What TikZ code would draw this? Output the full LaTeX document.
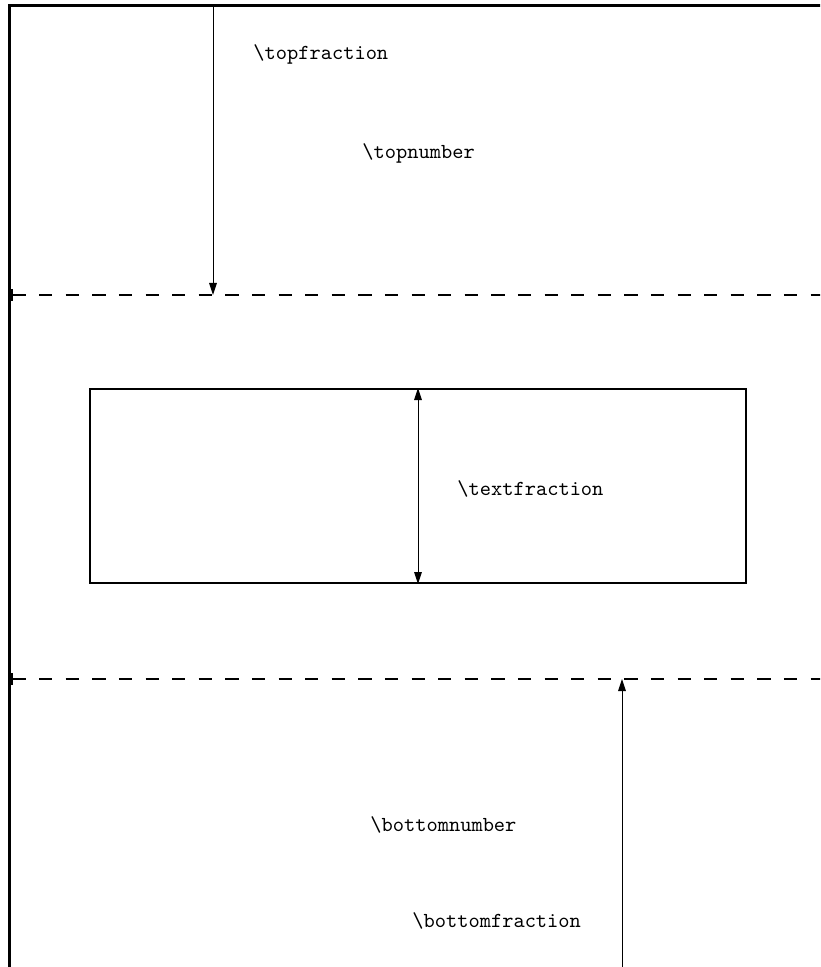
\documentclass[tikz,border=0pt]{standalone}
\usetikzlibrary{arrows.meta}
\begin{document}
\begin{tikzpicture}[x=0.5pt,y=-0.5pt,
  frameline/.style={line width=1.3pt},
  sepline/.style={line width=1pt, dash pattern=on 6.65pt off 6.65pt, {Bar[width=6pt,line width=1pt]}-},
  boxline/.style={line width=1pt},
  param/.style={font=\fontsize{10.7}{12}\selectfont\ttfamily, inner sep=0pt, anchor=west},
  dimarrow/.style={line width=0.5pt, -{Triangle[length=6pt,width=3.8pt]}},
  dimboth/.style={line width=0.5pt, {Triangle[length=6pt,width=3.8pt]}-{Triangle[length=6pt,width=3.8pt]}}]
\useasboundingbox (0,0) rectangle (820,967);
\clip (0,0) rectangle (820,967);

% page frame: left and top edges
\draw[frameline] (9.5,980) -- (9.5,5.5) -- (830,5.5);

% separators between top area, text area and bottom area
\coordinate (topsepL) at (11,295);
\coordinate (topsepR) at (830,295);
\coordinate (botsepL) at (11,679);
\coordinate (botsepR) at (830,679);
\draw[sepline] (topsepL) -- (topsepR);
\draw[sepline] (botsepL) -- (botsepR);

% text block
\node[boxline, draw, minimum width=328pt, minimum height=97pt, inner sep=0pt] (textbox) at (418,486) {};

% top float region
\coordinate (topstart) at (213,5.5);
\coordinate (topend) at (213,295);
\draw[dimarrow] (topstart) -- (topend);
\node[param] (topfrac) at (253,54) {\textbackslash topfraction};
\node[param] (topnum) at (362,153) {\textbackslash topnumber};

% text fraction
\draw[dimboth] (textbox.north) -- (textbox.south);
\node[param] (textfrac) at (457,489) {\textbackslash textfraction};

% bottom float region
\coordinate (botstart) at (622,980);
\coordinate (botend) at (622,679);
\draw[dimarrow] (botstart) -- (botend);
\node[param] (botnum) at (370,825) {\textbackslash bottomnumber};
\node[param] (botfrac) at (412,921) {\textbackslash bottomfraction};
\end{tikzpicture}
\end{document}
